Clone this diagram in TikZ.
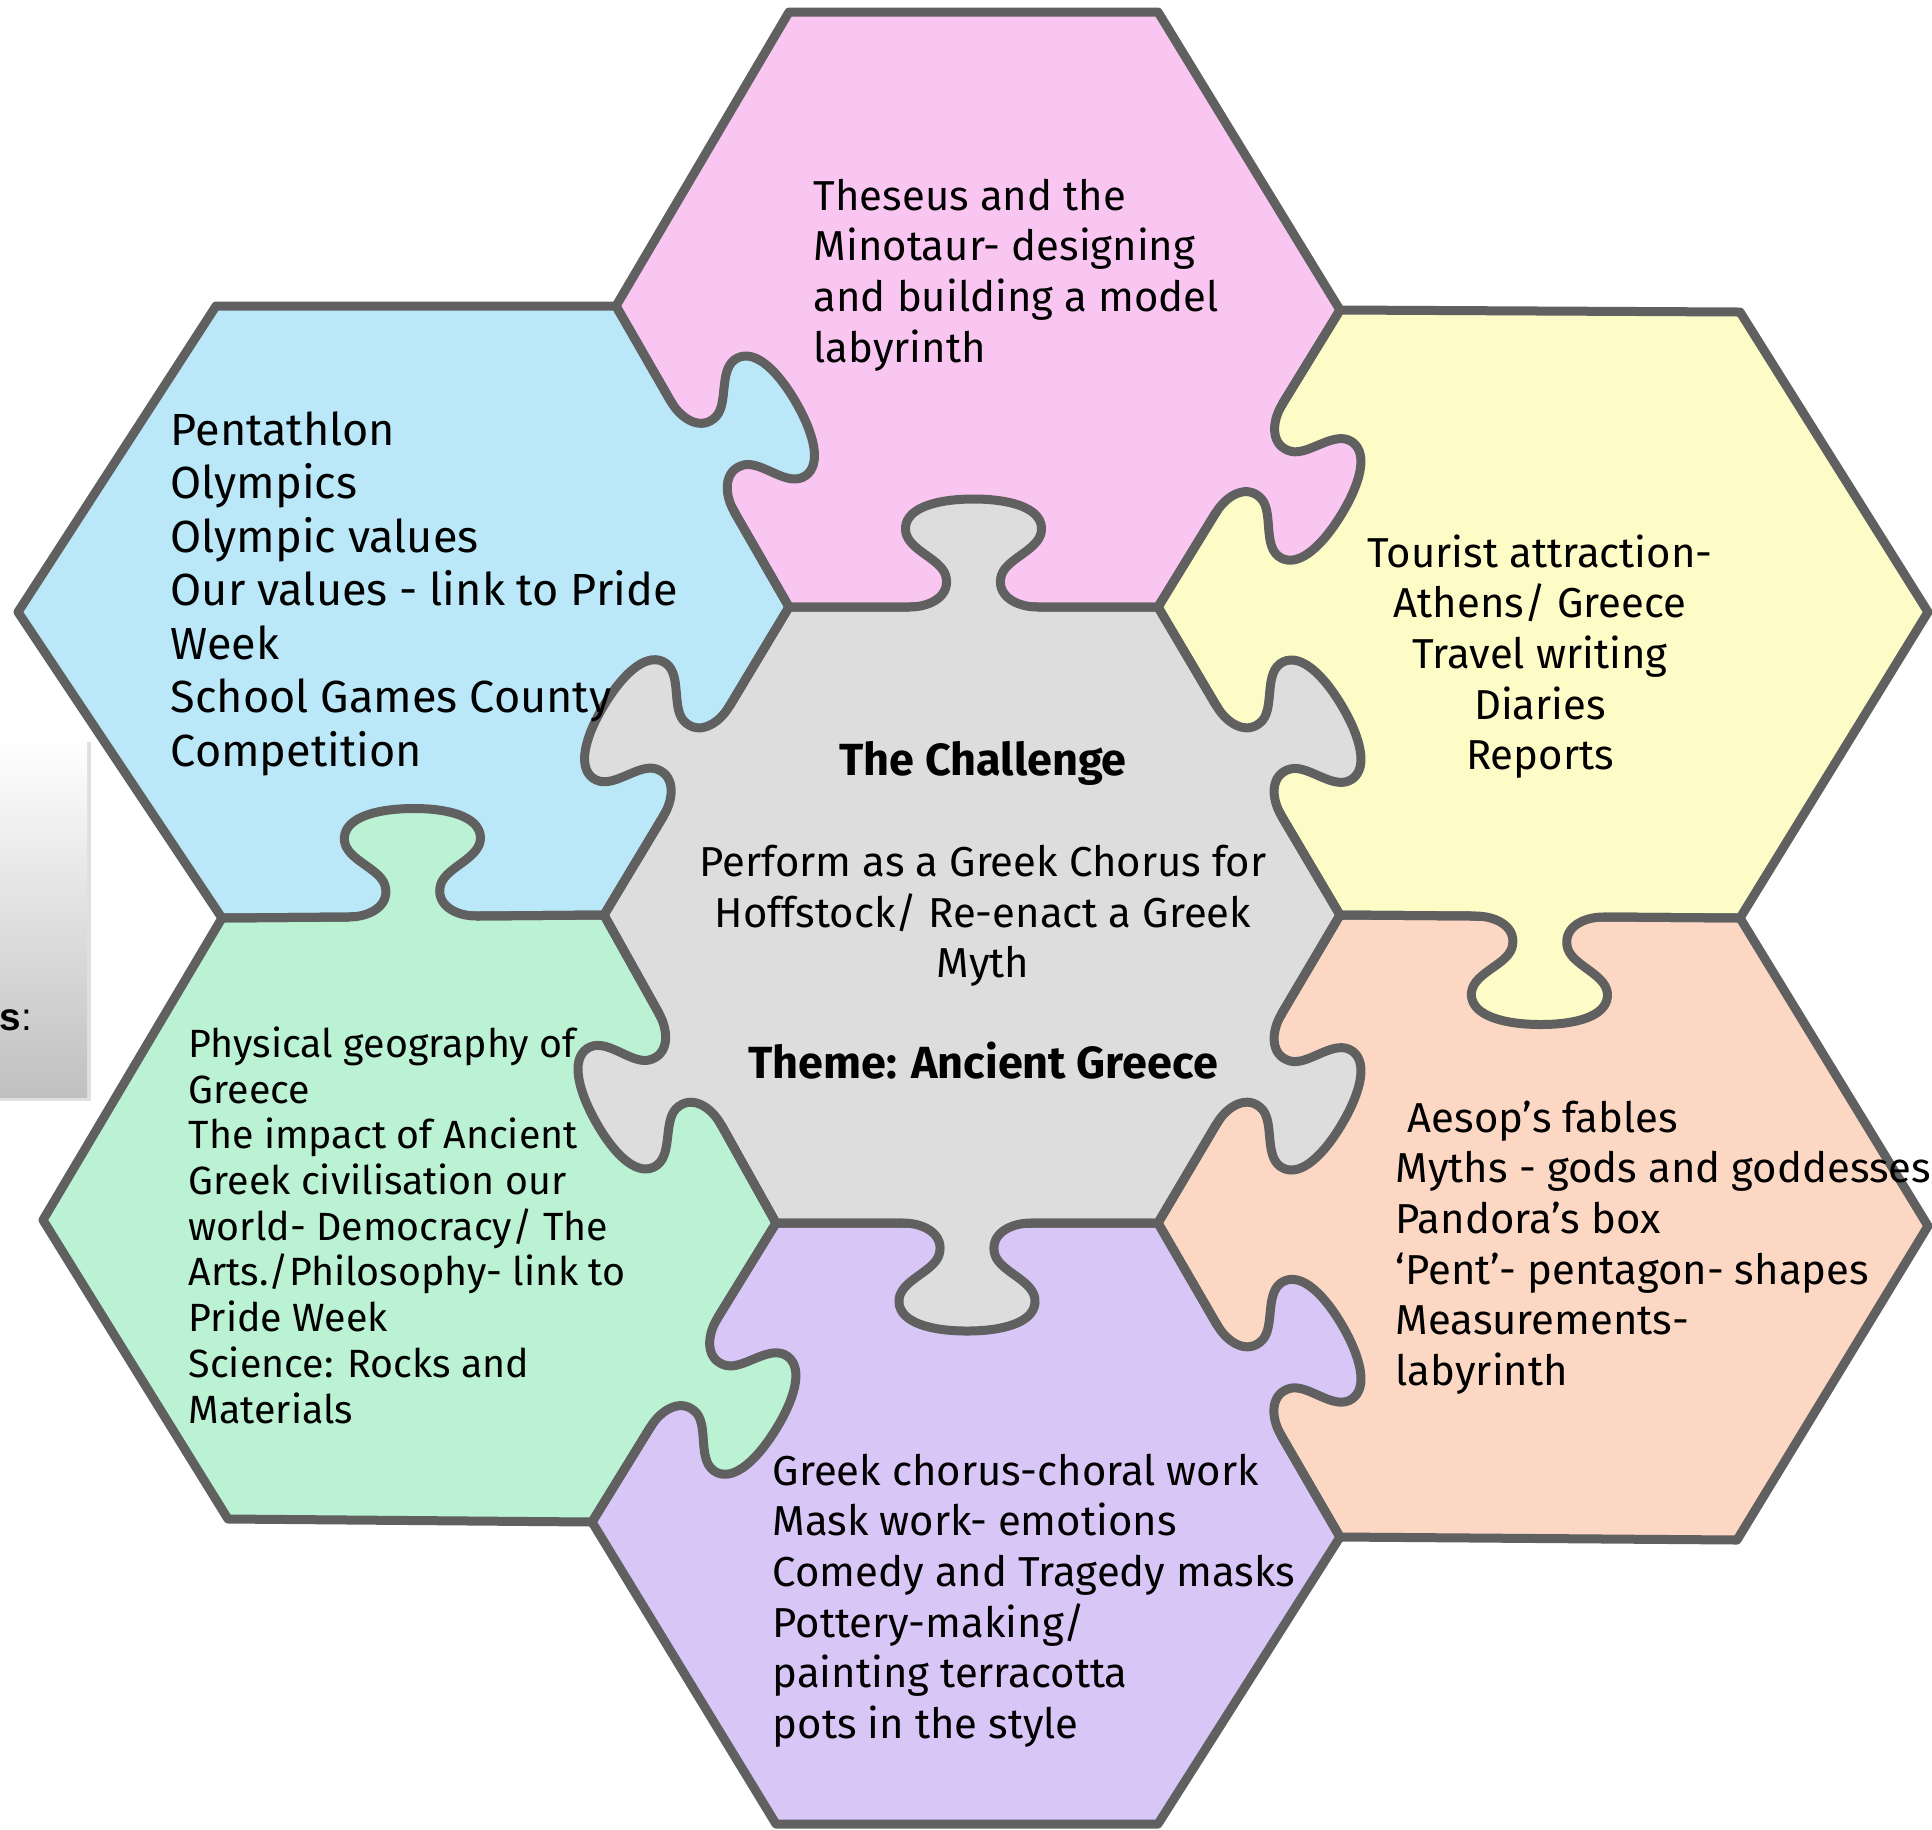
\documentclass[tikz,border=0pt]{standalone}
\usepackage{fontspec}
\setmainfont{Fira Sans}
\newfontfamily\boxfont{Liberation Sans}
\usetikzlibrary{calc}
\definecolor{hexline}{RGB}{96,96,96}
\definecolor{hexgray}{RGB}{221,221,221}
\definecolor{hexpink}{RGB}{249,198,241}
\definecolor{hexblue}{RGB}{187,232,248}
\definecolor{hexyellow}{RGB}{253,251,198}
\definecolor{hexpeach}{RGB}{252,216,196}
\definecolor{hexgreen}{RGB}{188,242,212}
\definecolor{hexpurple}{RGB}{216,198,246}
\definecolor{boxgray}{RGB}{192,192,192}
\newcommand{\bodysize}{\fontsize{11.9}{14.37}\selectfont}
\newcommand{\firstline}{\rule{0pt}{11pt}}
\newcommand{\headline}[1]{{\fontsize{12.8}{14.37}\selectfont\bfseries #1}}
\newcommand{\knob}[3]{%
  \path let \p1=($(#2)-(#1)$) in ($(#1)!0.5!(#2)$) pic[rotate={atan2(\y1,\x1)}, fill=#3] {knob};}
\tikzset{
    hexedge/.style={draw=hexline, line width=0.9mm, line join=round, line cap=round},
    piecetext/.style={anchor=north west, align=left, inner sep=0pt, font=\bodysize},
    pics/knob/.style={code={
        \fill[pic actions] (-64,-12) -- (-64,0) .. controls (-42,0) and (-22,12) .. (-28,32)
            .. controls (-34,50) and (-70,58) .. (-68,80)
            .. controls (-66,100) and (-35,108) .. (0,108)
            .. controls (35,108) and (66,100) .. (68,80)
            .. controls (70,58) and (34,50) .. (28,32)
            .. controls (22,12) and (42,0) .. (64,0) -- (64,-12) -- cycle;
        \draw[hexedge] (-64,0) .. controls (-42,0) and (-22,12) .. (-28,32)
            .. controls (-34,50) and (-70,58) .. (-68,80)
            .. controls (-66,100) and (-35,108) .. (0,108)
            .. controls (35,108) and (66,100) .. (68,80)
            .. controls (70,58) and (34,50) .. (28,32)
            .. controls (22,12) and (42,0) .. (64,0);
    }}
}
\begin{document}
\begin{tikzpicture}[x=0.01cm, y=-0.01cm]
    \useasboundingbox (0,0) rectangle (1932,1829);

    % corner vertices of the honeycomb
    \coordinate (gTL) at (789,607);  \coordinate (gTR) at (1158,607);
    \coordinate (gR)  at (1340,915); \coordinate (gBR) at (1158,1223);
    \coordinate (gBL) at (776,1223); \coordinate (gL)  at (604,915);
    \coordinate (pTL) at (789,12);   \coordinate (pTR) at (1158,12);
    \coordinate (pR)  at (1340,310); \coordinate (pL)  at (616,306);
    \coordinate (bTL) at (216,306);  \coordinate (bLft) at (18,612);
    \coordinate (bBL) at (222,918);
    \coordinate (yTR) at (1740,312); \coordinate (yRt) at (1928,612);
    \coordinate (yBR) at (1740,918);
    \coordinate (eR)  at (1928,1226); \coordinate (eBR) at (1737,1540);
    \coordinate (uR)  at (1340,1537);
    \coordinate (uBR) at (1158,1824); \coordinate (uBL) at (776,1824);
    \coordinate (uL)  at (592,1522);
    \coordinate (nBL) at (228,1519); \coordinate (nLft) at (43,1220);

    % box cut off at the left border
    \fill[black, opacity=0.12] (0,742) rectangle (91,1101);
    \shade[top color=white, bottom color=boxgray] (0,738) rectangle (87,1097);
    \node[anchor=base west, inner sep=0pt, font=\boxfont\fontsize{11}{13}\selectfont] (boxtail) at (-1,1030) {\textbf{s}:};

    % pieces
    \foreach \col/\a/\b/\c/\d/\e/\f in {
        hexgray/gTL/gTR/gR/gBR/gBL/gL,
        hexpink/pTL/pTR/pR/gTR/gTL/pL,
        hexblue/bTL/pL/gTL/gL/bBL/bLft,
        hexyellow/pR/yTR/yRt/yBR/gR/gTR,
        hexpeach/gR/yBR/eR/eBR/uR/gBR,
        hexpurple/gBL/gBR/uR/uBR/uBL/uL,
        hexgreen/bBL/gL/gBL/uL/nBL/nLft}
        \fill[\col] (\a) -- (\b) -- (\c) -- (\d) -- (\e) -- (\f) -- cycle;
    \foreach \a/\b/\c/\d/\e/\f in {
        gTL/gTR/gR/gBR/gBL/gL, pTL/pTR/pR/gTR/gTL/pL, bTL/pL/gTL/gL/bBL/bLft,
        pR/yTR/yRt/yBR/gR/gTR, gR/yBR/eR/eBR/uR/gBR, gBL/gBR/uR/uBR/uBL/uL,
        bBL/gL/gBL/uL/nBL/nLft}
        \draw[hexedge] (\a) -- (\b) -- (\c) -- (\d) -- (\e) -- (\f) -- cycle;

    % tabs
    \knob{gTL}{pL}{hexblue}
    \knob{gTR}{gTL}{hexgray}
    \knob{gTR}{pR}{hexpink}
    \knob{gR}{gTR}{hexgray}
    \knob{gR}{yBR}{hexyellow}
    \knob{gBR}{gR}{hexgray}
    \knob{uR}{gBR}{hexpurple}
    \knob{gBL}{gBR}{hexgray}
    \knob{uL}{gBL}{hexgreen}
    \knob{gL}{gBL}{hexgray}
    \knob{gL}{bBL}{hexgreen}
    \knob{gTL}{gL}{hexgray}

    % texts
    \node[piecetext] (pinktext) at (813,171)
        {\firstline Theseus and the\\Minotaur- designing\\and building a model\\labyrinth};
    \node[piecetext, font=\fontsize{12.8}{15.2}\selectfont] (bluetext) at (170,406)
        {\firstline Pentathlon\\Olympics\\Olympic values\\Our values - link to Pride\\Week\\School Games County\\Competition};
    \node[piecetext, anchor=north, align=center] (yellowtext) at (1540,528)
        {\firstline Tourist attraction-\\Athens/ Greece\\Travel writing\\Diaries\\Reports};
    \node[piecetext, anchor=north, align=center] (challenge) at (983,736)
        {\firstline\headline{The Challenge}\\[14.37pt]Perform as a Greek Chorus for\\Hoffstock/ Re-enact a Greek\\Myth\\[14.37pt]\headline{Theme: Ancient Greece}};
    \node[piecetext] (peachtext) at (1395,1093)
        {\firstline\hspace{0.12cm}Aesop’s fables\\Myths - gods and goddesses\\Pandora’s box\\‘Pent’- pentagon- shapes\\Measurements-\\labyrinth};
    \node[piecetext] (purpletext) at (772,1446)
        {\firstline Greek chorus-choral work\\Mask work- emotions\\Comedy and Tragedy masks\\Pottery-making/\\painting terracotta\\pots in the style};
    \node[piecetext, font=\fontsize{11.2}{13}\selectfont] (greentext) at (188,1018)
        {\firstline Physical geography of\\Greece\\The impact of Ancient\\Greek civilisation our\\world- Democracy/ The\\Arts./Philosophy- link to\\Pride Week\\Science: Rocks and\\Materials};
\end{tikzpicture}
\end{document}
